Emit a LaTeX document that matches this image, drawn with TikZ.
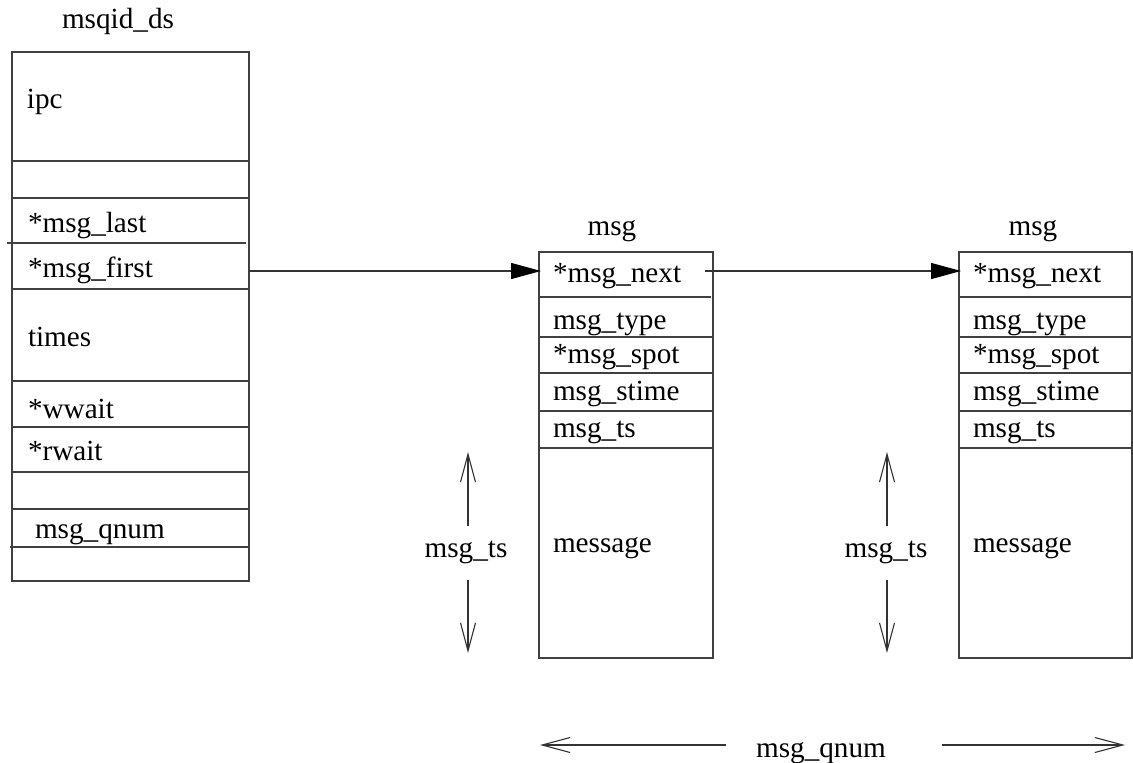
\documentclass[tikz,border=0pt]{standalone}
\usepackage{fontspec}
\setmainfont{Liberation Serif}
\usetikzlibrary{arrows.meta}
\begin{document}
\begin{tikzpicture}[x=1pt,y=-1pt,
  every node/.style={inner sep=0pt, outer sep=0pt},
  lbl/.style={anchor=base west, font=\fontsize{29.2}{34}\selectfont},
  ttl/.style={anchor=base, font=\fontsize{29.2}{34}\selectfont},
  box/.style={draw=black!75, line width=1.3pt},
  sep/.style={draw=black!75, line width=1.3pt},
  ptr/.style={draw=black!80, line width=1.3pt, -{Triangle[length=30pt,width=16pt,fill=black,color=black]}},
  dimarrow/.style={draw=black!80, line width=1.1pt, -{Straight Barb[length=28pt,width=15pt]}},
]
\useasboundingbox (0,0) rectangle (1133,763);

% ---- msqid_ds ----
\node[ttl] (dstitle) at (118,28) {msqid\_ds};
\node[box, anchor=north west, minimum width=237pt, minimum height=529pt] (ds) at (12,52) {};
\draw[sep] (12,161) -- (249,161);
\draw[sep] (12,198) -- (249,198);
\draw[sep] (7,243) -- (246,243);
\draw[sep] (12,289) -- (249,289);
\draw[sep] (12,381) -- (249,381);
\draw[sep] (12,427) -- (249,427);
\draw[sep] (12,472) -- (249,472);
\draw[sep] (12,509) -- (249,509);
\draw[sep] (10,547) -- (249,547);
\node[lbl] (ipc) at (27,108) {ipc};
\node[lbl] (last) at (28,232) {*msg\_last};
\node[lbl] (first) at (28,277) {*msg\_first};
\node[lbl] (times) at (28,346) {times};
\node[lbl] (wwait) at (28,418) {*wwait};
\node[lbl] (rwait) at (28,460) {*rwait};
\node[lbl] (qnum) at (35,538) {msg\_qnum};

% ---- msg 1 ----
\node[ttl] (m1title) at (612,235) {msg};
\node[box, anchor=north west, minimum width=174pt, minimum height=406pt] (m1) at (539,252) {};
\draw[sep] (539,297) -- (711,297);
\draw[sep] (539,337) -- (713,337);
\draw[sep] (539,373) -- (713,373);
\draw[sep] (539,411) -- (713,411);
\draw[sep] (539,448) -- (713,448);
\node[lbl] (m1next) at (553,282) {*msg\_next};
\node[lbl] (m1type) at (553,329) {msg\_type};
\node[lbl] (m1spot) at (553,363) {*msg\_spot};
\node[lbl] (m1stime) at (553,400) {msg\_stime};
\node[lbl] (m1ts) at (553,437) {msg\_ts};
\node[lbl] (m1msg) at (553,552) {message};

% ---- msg 2 ----
\node[ttl] (m2title) at (1033,235) {msg};
\node[box, anchor=north west, minimum width=173pt, minimum height=406pt] (m2) at (959,252) {};
\draw[sep] (959,297) -- (1132,297);
\draw[sep] (959,337) -- (1132,337);
\draw[sep] (959,373) -- (1132,373);
\draw[sep] (959,411) -- (1132,411);
\draw[sep] (959,448) -- (1132,448);
\node[lbl] (m2next) at (973,282) {*msg\_next};
\node[lbl] (m2type) at (973,329) {msg\_type};
\node[lbl] (m2spot) at (973,363) {*msg\_spot};
\node[lbl] (m2stime) at (973,400) {msg\_stime};
\node[lbl] (m2ts) at (973,437) {msg\_ts};
\node[lbl] (m2msg) at (973,552) {message};

% ---- pointers ----
\coordinate (p1) at (249,271);
\coordinate (p2) at (705,271);
\draw[ptr, shorten >=-2pt] (p1) -- (m1.west |- p1);
\draw[ptr, shorten >=-2pt] (p2) -- (m2.west |- p2);

% ---- msg_ts dimensions ----
\node[ttl] (ts1) at (466,557) {msg\_ts};
\coordinate (ts1a) at (468,526);
\coordinate (ts1b) at (468,452);
\coordinate (ts1c) at (468,580);
\coordinate (ts1d) at (468,653);
\draw[dimarrow] (ts1a) -- (ts1b);
\draw[dimarrow] (ts1c) -- (ts1d);

\node[ttl] (ts2) at (886,557) {msg\_ts};
\coordinate (ts2a) at (887,526);
\coordinate (ts2b) at (887,452);
\coordinate (ts2c) at (887,580);
\coordinate (ts2d) at (887,653);
\draw[dimarrow] (ts2a) -- (ts2b);
\draw[dimarrow] (ts2c) -- (ts2d);

% ---- msg_qnum dimension ----
\node[ttl] (qn) at (821,757) {msg\_qnum};
\coordinate (qa) at (726,745);
\coordinate (qb) at (540,745);
\coordinate (qc) at (942,745);
\coordinate (qd) at (1125,745);
\draw[dimarrow] (qa) -- (qb);
\draw[dimarrow] (qc) -- (qd);
\end{tikzpicture}
\end{document}
